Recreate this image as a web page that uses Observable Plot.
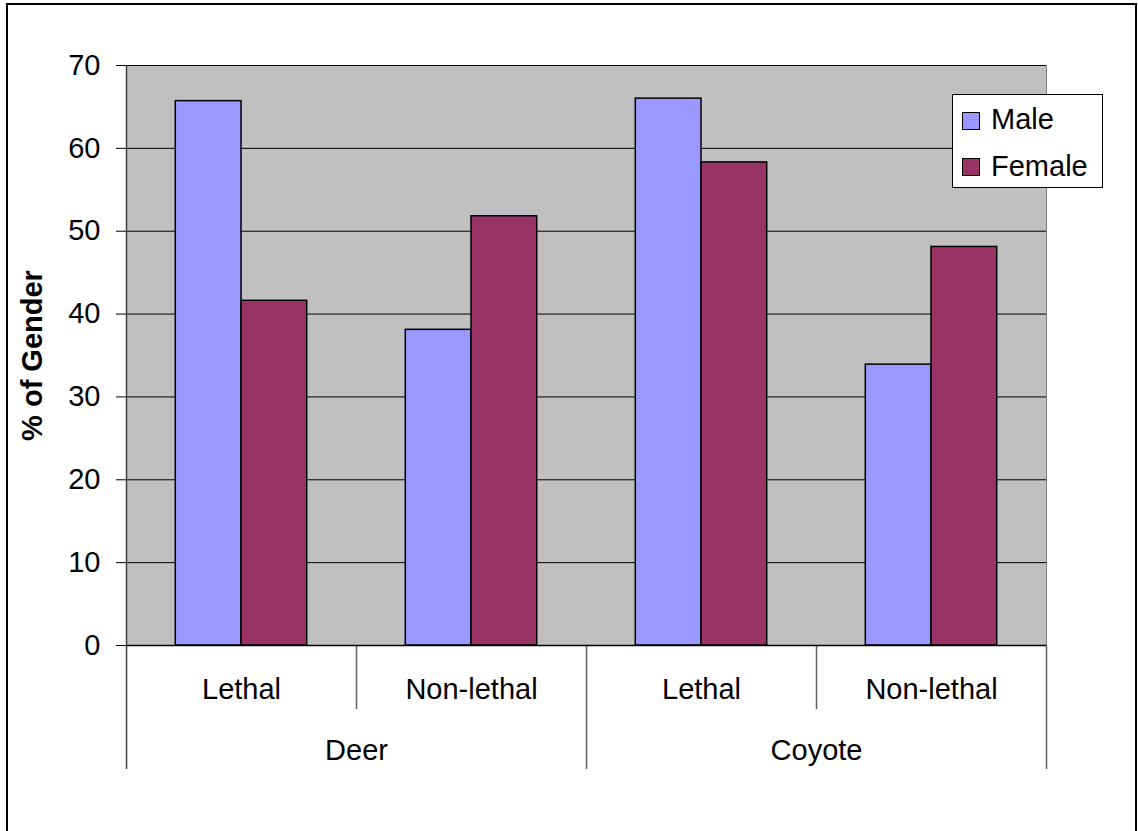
<!DOCTYPE html>
<html>
<head>
<meta charset="utf-8">
<script src="https://cdn.jsdelivr.net/npm/d3@7"></script>
<script src="https://cdn.jsdelivr.net/npm/@observablehq/plot@0.6"></script>
<style>
  html, body { margin: 0; padding: 0; background: #fff; overflow: hidden; }
  #chart { position: relative; width: 1138px; height: 831px; }
  #chart svg { display: block; }
  #border {
    position: absolute; left: 6px; top: 3px; width: 1131px; height: 900px;
    border: 2px solid #000; box-sizing: border-box; pointer-events: none;
  }
  #legend {
    position: absolute; left: 952px; top: 94px; width: 151px; height: 94px;
    border: 1px solid #000; background: #fff; box-sizing: border-box;
    font-family: "Liberation Sans", Arial, sans-serif; font-size: 29px; color: #000;
  }
  #legend .swatch {
    position: absolute; left: 9px; width: 16px; height: 16px;
    border: 1.5px solid #000;
  }
  #legend .label { position: absolute; left: 38px; line-height: 29px; white-space: nowrap; }
</style>
</head>
<body>
<div id="chart">
  <div id="border"></div>
</div>
<script>
// Survey shares by species and control method, split by respondent gender
const species = ["Deer", "Coyote"];
const methods = ["Lethal", "Non-lethal"];
const genders = ["Male", "Female"];
const maleValues = [65.7, 38.1, 66.0, 33.9];
const femaleValues = [41.6, 51.8, 58.3, 48.1];
const yTicks = [0, 10, 20, 30, 40, 50, 60, 70];
const yLabel = "% of Gender";

const palette = ["#9999FF", "#993366"];

// One group per species × method, in drawing order
const groups = species.flatMap(s => methods.map(m => ({species: s, method: m})));
const rows = groups.flatMap((g, i) => [
  {...g, index: i, gender: "Male", value: maleValues[i]},
  {...g, index: i, gender: "Female", value: femaleValues[i]}
]);

// Layout
const width = 1138, height = 831;
const marginLeft = 126, marginRight = 92, marginTop = 65, marginBottom = 186;
const step = (width - marginLeft - marginRight) / groups.length;
const barWidth = step / 3.5;              // two bars plus a 150% gap per group
const sideGap = (step - 2 * barWidth) / 2;

const bounds = d3.range(groups.length + 1);
const innerBounds = bounds.filter(i => i % methods.length !== 0);
const outerBounds = bounds.filter(i => i > 0 && i % methods.length === 0);

const chart = Plot.plot({
  width, height, marginLeft, marginRight, marginTop, marginBottom,
  style: {
    fontFamily: "'Liberation Sans', Arial, sans-serif",
    fontSize: "29px",
    color: "#000",
    background: "#fff",
    overflow: "visible"
  },
  x: {domain: [0, groups.length], axis: null},
  y: {domain: [0, 70], ticks: yTicks, tickSize: 10, tickPadding: 16, label: null},
  color: {domain: genders, range: palette},
  marks: [
    Plot.frame({fill: "#c0c0c0", stroke: "#808080"}),
    Plot.ruleY(yTicks, {stroke: "#000", strokeWidth: 1}),
    Plot.rect(rows.filter(d => d.gender === "Male"), {
      x1: "index", x2: d => d.index + 1, y1: () => 0, y2: "value",
      fill: "gender", stroke: "#000", strokeWidth: 1.5,
      insetLeft: sideGap, insetRight: sideGap + barWidth
    }),
    Plot.rect(rows.filter(d => d.gender === "Female"), {
      x1: "index", x2: d => d.index + 1, y1: () => 0, y2: "value",
      fill: "gender", stroke: "#000", strokeWidth: 1.5,
      insetLeft: sideGap + barWidth, insetRight: sideGap
    }),
    // value axis line, continuing down as the outer category divider
    Plot.ruleX([0], {stroke: "#404040", strokeWidth: 1.5, insetBottom: -124}),
    // category dividers below the baseline
    Plot.ruleX(innerBounds, {y1: () => 0, y2: () => 0, insetBottom: -64, stroke: "#606060", strokeWidth: 1.5}),
    Plot.ruleX(outerBounds, {y1: () => 0, y2: () => 0, insetBottom: -124, stroke: "#606060", strokeWidth: 1.5}),
    Plot.ruleY([0], {stroke: "#000", strokeWidth: 1.5}),
    Plot.text(groups, {x: (d, i) => i + 0.5, frameAnchor: "bottom", dy: 53, text: "method", fill: "#000"}),
    Plot.text(species, {
      x: (d, i) => i * methods.length + methods.length / 2,
      frameAnchor: "bottom", dy: 114, text: d => d, fill: "#000"
    }),
    Plot.text([yLabel], {
      frameAnchor: "left", textAnchor: "middle", rotate: -90, dx: -93.5,
      text: d => d, fontWeight: "bold", fill: "#000"
    })
  ]
});

const container = document.getElementById("chart");
container.insertBefore(chart, container.firstChild);

// Legend box inside the chart area
const legend = document.createElement("div");
legend.id = "legend";
const swatchTops = [16.5, 62.5];
const labelTops = [10, 57];
genders.forEach((g, i) => {
  const sw = document.createElement("div");
  sw.className = "swatch";
  sw.style.top = swatchTops[i] + "px";
  sw.style.background = palette[i];
  const lb = document.createElement("div");
  lb.className = "label";
  lb.style.top = labelTops[i] + "px";
  lb.textContent = g;
  legend.appendChild(sw);
  legend.appendChild(lb);
});
container.appendChild(legend);
</script>
</body>
</html>
